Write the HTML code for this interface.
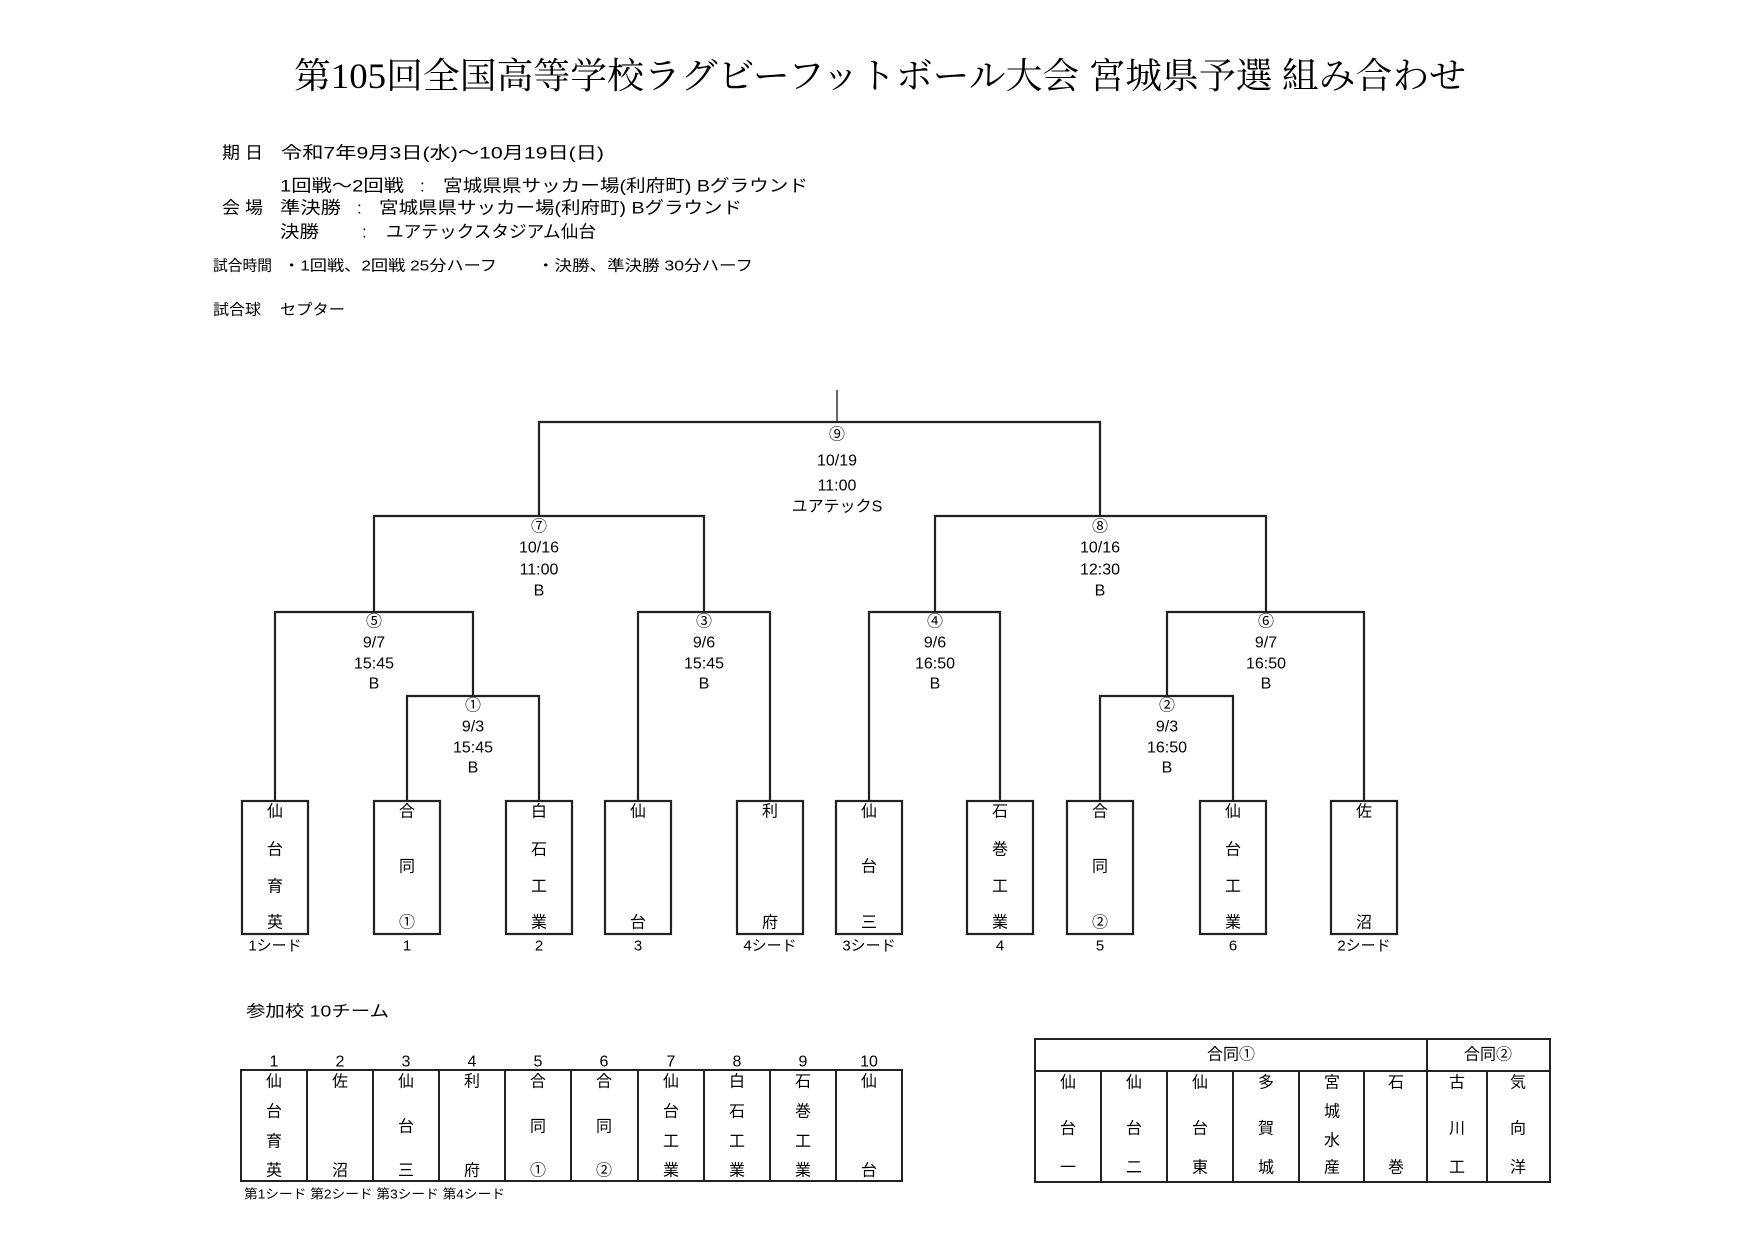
<!DOCTYPE html>
<html><head><meta charset="utf-8"><style>
html,body{margin:0;padding:0;background:#fff;}
svg{display:block;}
text{font-family:"Liberation Sans","Noto Sans CJK JP",sans-serif;fill:#000;dominant-baseline:central;}
.s{font-family:"Liberation Serif","Noto Serif CJK SC",serif;}
.c{text-anchor:middle;}
</style></head><body>
<svg width="1754" height="1240" viewBox="0 0 1754 1240" xmlns="http://www.w3.org/2000/svg">
<rect width="1754" height="1240" fill="#fff"/>
<text x="294" y="76" class="s" font-size="36" textLength="1172" lengthAdjust="spacingAndGlyphs">第105回全国高等学校ラグビーフットボール大会  宮城県予選  組み合わせ</text>

<g font-size="17" class="s">
<text x="222" y="153" textLength="41" lengthAdjust="spacingAndGlyphs">期 日</text>
<text x="281" y="153" textLength="323" lengthAdjust="spacingAndGlyphs">令和7年9月3日(水)～10月19日(日)</text>
<text x="280" y="186" textLength="124" lengthAdjust="spacingAndGlyphs">1回戦～2回戦</text><text x="420" y="186">:</text><text x="443" y="186" textLength="365" lengthAdjust="spacingAndGlyphs">宮城県県サッカー場(利府町)  Bグラウンド</text>
<text x="222" y="208" textLength="41" lengthAdjust="spacingAndGlyphs">会 場</text>
<text x="280" y="208" textLength="61" lengthAdjust="spacingAndGlyphs">準決勝</text><text x="357" y="208">:</text><text x="379" y="208" textLength="363" lengthAdjust="spacingAndGlyphs">宮城県県サッカー場(利府町)  Bグラウンド</text>
<text x="280" y="232" textLength="39" lengthAdjust="spacingAndGlyphs">決勝</text><text x="362" y="232">:</text><text x="386" y="232" textLength="210" lengthAdjust="spacingAndGlyphs">ユアテックスタジアム仙台</text>
</g>
<g font-size="15" class="s">
<text x="213" y="266" textLength="59" lengthAdjust="spacingAndGlyphs">試合時間</text>
<text x="283" y="266" textLength="214" lengthAdjust="spacingAndGlyphs">・1回戦、2回戦  25分ハーフ</text>
<text x="537" y="266" textLength="216" lengthAdjust="spacingAndGlyphs">・決勝、準決勝  30分ハーフ</text>
<text x="213" y="310" textLength="48" lengthAdjust="spacingAndGlyphs">試合球</text>
<text x="280" y="310" textLength="65" lengthAdjust="spacingAndGlyphs">セプター</text>
</g>

<path d="M837 390V422" stroke="#000" stroke-width="1.2" fill="none"/>
<g stroke="#222" stroke-width="2.2" fill="none">
<path d="M539 516V422H1100V516"/>
<path d="M374 612V516H704V612"/>
<path d="M935 612V516H1266V612"/>
<path d="M275 801V612H473V696"/>
<path d="M407 801V696H539V801"/>
<path d="M638 801V612H770V801"/>
<path d="M869 801V612H1000V801"/>
<path d="M1167 696V612H1364V801"/>
<path d="M1100 801V696H1233V801"/>
<rect x="242" y="801" width="66" height="133"/>
<rect x="374" y="801" width="66" height="133"/>
<rect x="506" y="801" width="66" height="133"/>
<rect x="605" y="801" width="66" height="133"/>
<rect x="737" y="801" width="66" height="133"/>
<rect x="836" y="801" width="66" height="133"/>
<rect x="967" y="801" width="66" height="133"/>
<rect x="1067" y="801" width="66" height="133"/>
<rect x="1200" y="801" width="66" height="133"/>
<rect x="1331" y="801" width="66" height="133"/>
</g>

<g font-size="16">
<text x="837" y="435" class="c">⑨</text><text x="837" y="461" class="c">10/19</text><text x="837" y="486" class="c">11:00</text><text x="837" y="507" class="c">ユアテックS</text>
<text x="539" y="527" class="c">⑦</text><text x="539" y="548" class="c">10/16</text><text x="539" y="570" class="c">11:00</text><text x="539" y="591" class="c">B</text>
<text x="1100" y="527" class="c">⑧</text><text x="1100" y="548" class="c">10/16</text><text x="1100" y="570" class="c">12:30</text><text x="1100" y="591" class="c">B</text>
<text x="374" y="622" class="c">⑤</text><text x="374" y="643" class="c">9/7</text><text x="374" y="664" class="c">15:45</text><text x="374" y="684" class="c">B</text>
<text x="704" y="622" class="c">③</text><text x="704" y="643" class="c">9/6</text><text x="704" y="664" class="c">15:45</text><text x="704" y="684" class="c">B</text>
<text x="935" y="622" class="c">④</text><text x="935" y="643" class="c">9/6</text><text x="935" y="664" class="c">16:50</text><text x="935" y="684" class="c">B</text>
<text x="1266" y="622" class="c">⑥</text><text x="1266" y="643" class="c">9/7</text><text x="1266" y="664" class="c">16:50</text><text x="1266" y="684" class="c">B</text>
<text x="473" y="706" class="c">①</text><text x="473" y="727" class="c">9/3</text><text x="473" y="748" class="c">15:45</text><text x="473" y="768" class="c">B</text>
<text x="1167" y="706" class="c">②</text><text x="1167" y="727" class="c">9/3</text><text x="1167" y="748" class="c">16:50</text><text x="1167" y="768" class="c">B</text>

<text x="275" y="812" class="c">仙</text><text x="275" y="850" class="c">台</text><text x="275" y="887" class="c">育</text><text x="275" y="923" class="c">英</text>
<text x="407" y="812" class="c">合</text><text x="407" y="867" class="c">同</text><text x="407" y="923" class="c">①</text>
<text x="539" y="812" class="c">白</text><text x="539" y="850" class="c">石</text><text x="539" y="887" class="c">工</text><text x="539" y="923" class="c">業</text>
<text x="638" y="812" class="c">仙</text><text x="638" y="923" class="c">台</text>
<text x="770" y="812" class="c">利</text><text x="770" y="923" class="c">府</text>
<text x="869" y="812" class="c">仙</text><text x="869" y="867" class="c">台</text><text x="869" y="923" class="c">三</text>
<text x="1000" y="812" class="c">石</text><text x="1000" y="850" class="c">巻</text><text x="1000" y="887" class="c">工</text><text x="1000" y="923" class="c">業</text>
<text x="1100" y="812" class="c">合</text><text x="1100" y="867" class="c">同</text><text x="1100" y="923" class="c">②</text>
<text x="1233" y="812" class="c">仙</text><text x="1233" y="850" class="c">台</text><text x="1233" y="887" class="c">工</text><text x="1233" y="923" class="c">業</text>
<text x="1364" y="812" class="c">佐</text><text x="1364" y="923" class="c">沼</text>
</g>
<g font-size="15">
<text x="275" y="946" class="c">1シード</text>
<text x="407" y="946" class="c">1</text>
<text x="539" y="946" class="c">2</text>
<text x="638" y="946" class="c">3</text>
<text x="770" y="946" class="c">4シード</text>
<text x="869" y="946" class="c">3シード</text>
<text x="1000" y="946" class="c">4</text>
<text x="1100" y="946" class="c">5</text>
<text x="1233" y="946" class="c">6</text>
<text x="1364" y="946" class="c">2シード</text>
</g>

<text x="246" y="1012" font-size="16" textLength="143" lengthAdjust="spacingAndGlyphs">参加校  10チーム</text>

<g stroke="#222" stroke-width="2" fill="none">
<rect x="241" y="1070" width="661" height="111"/>
<path d="M307 1070V1181M373 1070V1181M439 1070V1181M505 1070V1181M571 1070V1181M638 1070V1181M704 1070V1181M770 1070V1181M836 1070V1181"/>
</g>
<g font-size="16">
<text x="274" y="1062" class="c">1</text><text x="340" y="1062" class="c">2</text><text x="406" y="1062" class="c">3</text><text x="472" y="1062" class="c">4</text><text x="538" y="1062" class="c">5</text><text x="604" y="1062" class="c">6</text><text x="671" y="1062" class="c">7</text><text x="737" y="1062" class="c">8</text><text x="803" y="1062" class="c">9</text><text x="869" y="1062" class="c">10</text>
<text x="274" y="1082" class="c">仙</text><text x="274" y="1112" class="c">台</text><text x="274" y="1142" class="c">育</text><text x="274" y="1171" class="c">英</text>
<text x="340" y="1082" class="c">佐</text><text x="340" y="1171" class="c">沼</text>
<text x="406" y="1082" class="c">仙</text><text x="406" y="1127" class="c">台</text><text x="406" y="1171" class="c">三</text>
<text x="472" y="1082" class="c">利</text><text x="472" y="1171" class="c">府</text>
<text x="538" y="1082" class="c">合</text><text x="538" y="1127" class="c">同</text><text x="538" y="1171" class="c">①</text>
<text x="604" y="1082" class="c">合</text><text x="604" y="1127" class="c">同</text><text x="604" y="1171" class="c">②</text>
<text x="671" y="1082" class="c">仙</text><text x="671" y="1112" class="c">台</text><text x="671" y="1142" class="c">工</text><text x="671" y="1171" class="c">業</text>
<text x="737" y="1082" class="c">白</text><text x="737" y="1112" class="c">石</text><text x="737" y="1142" class="c">工</text><text x="737" y="1171" class="c">業</text>
<text x="803" y="1082" class="c">石</text><text x="803" y="1112" class="c">巻</text><text x="803" y="1142" class="c">工</text><text x="803" y="1171" class="c">業</text>
<text x="869" y="1082" class="c">仙</text><text x="869" y="1171" class="c">台</text>
</g>
<text x="244" y="1194" font-size="13" textLength="261" lengthAdjust="spacingAndGlyphs">第1シード 第2シード 第3シード 第4シード</text>

<g stroke="#222" stroke-width="2" fill="none">
<rect x="1035" y="1039" width="515" height="143"/>
<path d="M1035 1071H1550M1427 1039V1182M1101 1071V1182M1167 1071V1182M1233 1071V1182M1299 1071V1182M1364 1071V1182M1487 1071V1182"/>
</g>
<g font-size="16">
<text x="1231" y="1055" class="c">合同①</text>
<text x="1488" y="1055" class="c">合同②</text>
<text x="1068" y="1083" class="c">仙</text><text x="1068" y="1129" class="c">台</text><text x="1068" y="1168" class="c">一</text>
<text x="1134" y="1083" class="c">仙</text><text x="1134" y="1129" class="c">台</text><text x="1134" y="1168" class="c">二</text>
<text x="1200" y="1083" class="c">仙</text><text x="1200" y="1129" class="c">台</text><text x="1200" y="1168" class="c">東</text>
<text x="1266" y="1083" class="c">多</text><text x="1266" y="1129" class="c">賀</text><text x="1266" y="1168" class="c">城</text>
<text x="1332" y="1083" class="c">宮</text><text x="1332" y="1112" class="c">城</text><text x="1332" y="1141" class="c">水</text><text x="1332" y="1168" class="c">産</text>
<text x="1396" y="1083" class="c">石</text><text x="1396" y="1168" class="c">巻</text>
<text x="1457" y="1083" class="c">古</text><text x="1457" y="1129" class="c">川</text><text x="1457" y="1168" class="c">工</text>
<text x="1518" y="1083" class="c">気</text><text x="1518" y="1129" class="c">向</text><text x="1518" y="1168" class="c">洋</text>
</g>
</svg>
</body></html>
